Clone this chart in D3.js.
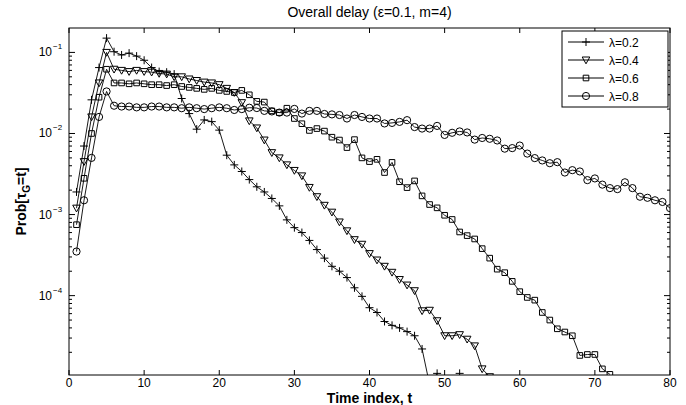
<!DOCTYPE html>
<html>
<head>
<meta charset="utf-8">
<script src="https://cdn.jsdelivr.net/npm/d3@7"></script>
<style>
  body { margin: 0; background: #fff; }
  svg { font-family: "Liberation Sans", Arial, sans-serif; }
  .axis-label { font-weight: bold; font-size: 14px; }
  .tick-label { font-size: 12px; }
</style>
</head>
<body>
<svg id="chart" width="686" height="405"></svg>
<script>
const chartSize = { width: 686, height: 405 };
const margin = { left: 69, right: 16, top: 28, bottom: 30 };
const width = chartSize.width - margin.left - margin.right;
const height = chartSize.height - margin.top - margin.bottom;

const timeIndex = d3.range(1, 81);
const xTicks = [0, 10, 20, 30, 40, 50, 60, 70, 80];
const yDecades = [-4, -3, -2, -1];
const legendLabels = ["λ=0.2", "λ=0.4", "λ=0.6", "λ=0.8"];
const markerTypes = ["plus", "triangle", "square", "circle"];

const lambda02 = [
  1.9e-3, 7e-3, 0.026, 0.065, 0.15, 0.102, 0.093, 0.098, 0.09, 0.08,
  0.065, 0.058, 0.057, 0.054, 0.027, 0.0176, 0.0113, 0.0147, 0.014, 0.011,
  0.0054, 0.0041, 0.0034, 0.0027, 0.0022, 0.0019, 0.00158, 0.00128, 0.00086, 0.00069,
  0.0006, 0.00048, 0.00037, 0.00029, 0.00023, 0.0002, 0.000167, 0.000125, 9.8e-5, 7.1e-5,
  6.2e-5, 4.8e-5, 4.3e-5, 4.0e-5, 3.6e-5, 3.2e-5, 2.2e-5, 8e-6, 1.1e-5, null,
  null, 1.1e-5, null, null, null, null, null, null, null, null,
  null, null, null, null, null, null, null, null, null, null,
  null, null, null, null, null, null, null, null, null, null
];

const lambda04 = [
  1.2e-3, 4.5e-3, 0.016, 0.042, 0.10, 0.062, 0.06, 0.058, 0.06, 0.058,
  0.057, 0.055, 0.054, 0.05, 0.05, 0.047, 0.045, 0.043, 0.042, 0.04,
  0.036, 0.032, 0.024, 0.0143, 0.0117, 0.0083, 0.0058, 0.005, 0.0041, 0.0035,
  0.003, 0.00216, 0.00166, 0.0013, 0.00107, 0.00081, 0.00063, 0.00049, 0.00043, 0.00033,
  2.75e-4, 2.3e-4, 1.94e-4, 1.58e-4, 1.35e-4, 1.15e-4, 6.5e-5, 6.6e-5, 4.9e-5, 3.2e-5,
  3.2e-5, 3.3e-5, 2.9e-5, 2.4e-5, 1.25e-5, 1.0e-5, null, null, null, null,
  null, null, null, null, null, null, null, null, null, null,
  null, null, null, null, null, null, null, null, null, null
];

const lambda06 = [
  7.5e-4, 2.8e-3, 0.010, 0.028, 0.062, 0.042, 0.042, 0.041, 0.042, 0.041,
  0.04, 0.04, 0.039, 0.04, 0.038, 0.037, 0.036, 0.035, 0.036, 0.034,
  0.033, 0.032, 0.034, 0.03, 0.0249, 0.0244, 0.019, 0.0181, 0.0205, 0.0153,
  0.0132, 0.0109, 0.0115, 0.0107, 0.009, 0.0083, 0.0067, 0.0084, 0.005, 0.0045,
  0.0048, 0.0033, 0.0044, 0.00254, 0.00215, 0.0026, 0.0017, 0.00133, 0.00121, 0.00098,
  0.00087, 0.00061, 0.00055, 0.0005, 0.00038, 0.00029, 0.000212, 0.000192, 0.00015, 0.000112,
  9.5e-5, 8.8e-5, 6.2e-5, 5.0e-5, 3.9e-5, 3.56e-5, 3.2e-5, 1.83e-5, 1.88e-5, 1.88e-5,
  1.25e-5, 1.07e-5, null, null, null, null, null, null, null, null
];

const lambda08 = [
  3.5e-4, 1.5e-3, 5e-3, 0.016, 0.033, 0.022, 0.0215, 0.0215, 0.021, 0.021,
  0.0215, 0.0215, 0.021, 0.021, 0.0205, 0.021, 0.0205, 0.02, 0.0205, 0.021,
  0.0205, 0.0195, 0.02, 0.0208, 0.0206, 0.019, 0.0187, 0.0181, 0.0181, 0.0201,
  0.0176, 0.019, 0.019, 0.0174, 0.0172, 0.0169, 0.0153, 0.0169, 0.016, 0.0153,
  0.0153, 0.0133, 0.0135, 0.0139, 0.0146, 0.012, 0.0115, 0.0115, 0.0124, 0.0096,
  0.0102, 0.0106, 0.0103, 0.0084, 0.0088, 0.0086, 0.0082, 0.0065, 0.0066, 0.0071,
  0.00565, 0.00497, 0.00465, 0.0043, 0.00443, 0.0033, 0.00353, 0.0034, 0.00266, 0.00279,
  0.00234, 0.00212, 0.00206, 0.0025, 0.00212, 0.00166, 0.00161, 0.0015, 0.00143, 0.0012
];

const seriesValues = [lambda02, lambda04, lambda06, lambda08];

const x = d3.scaleLinear().domain([0, 80]).range([0, width]);
const y = d3.scaleLog().domain([1.05e-5, 0.2]).range([height, 0]);

// marker shapes drawn around (0,0)
const markerPath = type => {
  if (type === "plus") return "M-4,0H4M0,-4V4";
  if (type === "triangle") return "M-3.8,-3H3.8L0,3.8Z";
  return "M-2.8,-2.8H2.8V2.8H-2.8Z";
};

const drawMarker = (g, type, px, py) => {
  if (type === "circle") {
    g.append("circle").attr("cx", px).attr("cy", py).attr("r", 3.6)
      .attr("fill", "none").attr("stroke", "#000");
  } else {
    g.append("path").attr("d", markerPath(type))
      .attr("transform", `translate(${px},${py})`)
      .attr("fill", "none").attr("stroke", "#000");
  }
};

const svg = d3.select("#chart");

svg.append("text")
  .attr("x", margin.left + width / 2)
  .attr("y", 17)
  .attr("text-anchor", "middle")
  .attr("font-size", 14)
  .text("Overall delay (ε=0.1, m=4)");

const plot = svg.append("g")
  .attr("transform", `translate(${margin.left}, ${margin.top})`);

plot.append("defs").append("clipPath").attr("id", "clip")
  .append("rect").attr("width", width).attr("height", height);

// ticks: x on bottom and top, y on left and right
const xTickG = plot.append("g").attr("class", "x-ticks");
xTicks.forEach(t => {
  xTickG.append("line").attr("x1", x(t)).attr("x2", x(t))
    .attr("y1", height).attr("y2", height - 5).attr("stroke", "#000");
  xTickG.append("line").attr("x1", x(t)).attr("x2", x(t))
    .attr("y1", 0).attr("y2", 5).attr("stroke", "#000");
  xTickG.append("text").attr("class", "tick-label")
    .attr("x", x(t)).attr("y", height + 12)
    .attr("text-anchor", "middle").text(t);
});

const minorTicks = [];
[-5, -4, -3, -2, -1].forEach(d => {
  d3.range(2, 10).forEach(k => {
    const v = k * Math.pow(10, d);
    if (v > y.domain()[0] && v < y.domain()[1]) minorTicks.push(v);
  });
});

const yTickG = plot.append("g").attr("class", "y-ticks");
minorTicks.forEach(v => {
  [[0, 3], [width, width - 3]].forEach(([a, b]) => {
    yTickG.append("line").attr("x1", a).attr("x2", b)
      .attr("y1", y(v)).attr("y2", y(v)).attr("stroke", "#000");
  });
});
yDecades.forEach(d => {
  const v = Math.pow(10, d);
  [[0, 6], [width, width - 6]].forEach(([a, b]) => {
    yTickG.append("line").attr("x1", a).attr("x2", b)
      .attr("y1", y(v)).attr("y2", y(v)).attr("stroke", "#000");
  });
  yTickG.append("text").attr("class", "tick-label")
    .attr("x", -17).attr("y", y(v) + 4).attr("text-anchor", "end").text("10");
  yTickG.append("text").attr("x", -16).attr("y", y(v) - 3)
    .attr("font-size", 8).text("−" + Math.abs(d));
});

plot.append("rect")
  .attr("width", width).attr("height", height)
  .attr("fill", "none").attr("stroke", "#000");

const line = d3.line()
  .defined(v => v !== null)
  .x((v, i) => x(timeIndex[i]))
  .y(v => y(v));

const data = plot.append("g").attr("clip-path", "url(#clip)");
seriesValues.forEach((values, s) => {
  data.append("path")
    .attr("d", line(values))
    .attr("fill", "none").attr("stroke", "#000").attr("stroke-width", 0.9);
  const mg = data.append("g");
  values.forEach((v, i) => {
    if (v === null) return;
    drawMarker(mg, markerTypes[s], x(timeIndex[i]), y(v));
  });
});

// legend
const legend = plot.append("g").attr("transform", `translate(${width - 108}, 3)`);
legend.append("rect").attr("width", 106).attr("height", 76)
  .attr("fill", "#fff").attr("stroke", "#000");
legendLabels.forEach((label, i) => {
  const ly = 11 + i * 18;
  legend.append("line").attr("x1", 6).attr("x2", 42)
    .attr("y1", ly).attr("y2", ly).attr("stroke", "#000");
  drawMarker(legend, markerTypes[i], 24, ly);
  legend.append("text").attr("x", 47).attr("y", ly + 4.5)
    .attr("font-size", 12).text(label);
});

svg.append("text").attr("class", "axis-label")
  .attr("x", margin.left + width / 2).attr("y", 403)
  .attr("text-anchor", "middle").text("Time index, t");

const ylab = svg.append("text").attr("class", "axis-label")
  .attr("transform", `translate(26, ${margin.top + height / 2}) rotate(-90)`)
  .attr("text-anchor", "middle");
ylab.append("tspan").text("Prob[τ");
ylab.append("tspan").attr("font-size", 10).attr("dy", 4).text("G");
ylab.append("tspan").attr("dy", -4).text("=t]");
</script>
</body>
</html>
